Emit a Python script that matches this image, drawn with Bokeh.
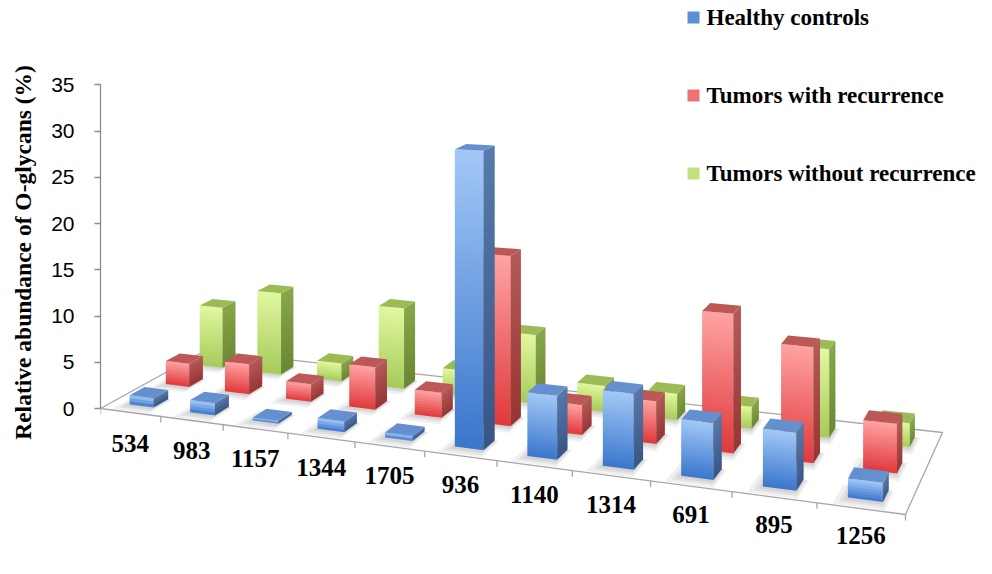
import numpy as np
from bokeh.plotting import figure
from bokeh.layouts import row
from bokeh.models import Range1d, FixedTicker, ColumnDataSource
from bokeh.embed import file_html
from bokeh.resources import INLINE
from bokeh.core.properties import value

# ---------------- data ----------------
categories = ["534", "983", "1157", "1344", "1705", "936", "1140", "1314", "691", "895", "1256"]
healthy = [1.0, 1.3, 0.3, 1.1, 0.5, 29.5, 6.2, 7.2, 5.3, 5.3, 1.7]
recurrence = [2.6, 3.3, 1.9, 4.5, 2.6, 17.4, 3.0, 4.2, 13.5, 11.0, 4.6]
no_recurrence = [6.9, 9.2, 2.0, 8.8, 2.7, 7.3, 2.7, 2.7, 2.2, 8.7, 2.3]
series_labels = ["Healthy controls", "Tumors with recurrence", "Tumors without recurrence"]
value_ticks = [0, 5, 10, 15, 20, 25, 30, 35]
y_title = "Relative abundance of  O-glycans (%)"

# ---------------- layout / style ----------------
TW = 46             # width of the strip holding the y title
W, H = 976, 557
AX_X = 100          # image x of the value axis / frame left
FL, FR, BR, BL = (100, 408), (905, 514), (942, 432), (205, 350)   # floor corners (image px)
PPU = 9.25          # px per value unit at the front-left corner
Y0 = 408            # image y of value 0 at the axis
BAR_W = 0.4
BAR_D = 0.4

PAL = [
    dict(ft="#a3c8f7", fb="#3a76cc", st="#587aab", sb="#375686", top="#6590cf", leg="#5d8fd8"),
    dict(ft="#ffa3a3", fb="#e0393b", st="#b45a5a", sb="#983434", top="#bd5858", leg="#ee7272"),
    dict(ft="#e2f8a0", fb="#a6cb5a", st="#88a64a", sb="#6a8832", top="#9bbb55", leg="#c2e17e"),
]


def homography(src, dst):
    A, b = [], []
    for (x, y), (X, Y) in zip(src, dst):
        A.append([x, y, 1, 0, 0, 0, -X * x, -X * y]); b.append(X)
        A.append([0, 0, 0, x, y, 1, -Y * x, -Y * y]); b.append(Y)
    h = np.linalg.solve(np.array(A, float), np.array(b, float))
    return np.append(h, 1.0).reshape(3, 3)


HM = homography([(0, 0), (1, 0), (1, 1), (0, 1)], [FL, FR, BR, BL])


def floor_px(u, w):
    r = HM @ np.array([u, w, 1.0])
    return r[0] / r[2], r[1] / r[2], r[2]


def to_data(px, py):
    return px, (Y0 - py) / PPU


def proj(u, w, v):
    sx, sy, d = floor_px(u, w)
    return to_data(sx, sy - v * PPU / d)


def hex2rgb(c):
    c = c.lstrip("#")
    return np.array([int(c[i:i + 2], 16) for i in (0, 2, 4)], float)


def mix(c_bot, c_top, t):
    a, b = hex2rgb(c_bot), hex2rgb(c_top)
    r = a + (b - a) * t
    return "#%02x%02x%02x" % tuple(int(round(x)) for x in r)


def quad(pts):
    xs, ys = zip(*[proj(*p) for p in pts])
    return list(xs), list(ys)


n = len(categories)
series = [healthy, recurrence, no_recurrence]

bars = []
for s, vals in enumerate(series):
    wc = (s + 0.5) / 3
    w0, w1 = wc - BAR_D / 6, wc + BAR_D / 6
    for i, v in enumerate(vals):
        uc = (i + 0.5) / n
        u0, u1 = uc - BAR_W / (2 * n), uc + BAR_W / (2 * n)
        d = floor_px(uc, wc)[2]
        bars.append((d, s, u0, u1, w0, w1, v))
bars.sort(key=lambda b: -b[0])

# faces
fx, fy, fc = [], [], []
shx, shy = [], []
for d, s, u0, u1, w0, w1, v in bars:
    pal = PAL[s]
    # soft shadow on the floor
    for eu, ew in ((0.012, 0.085), (0.007, 0.055), (0.003, 0.03)):
        xs, ys = quad([(u0 - eu, w0 - ew, 0), (u1 + eu * 0.5, w0 - ew, 0),
                       (u1 + eu * 0.5, w1, 0), (u0 - eu, w1, 0)])
        shx.append(xs); shy.append(ys)
    hpx = v * PPU / d
    N = max(2, int(hpx / 2.5))
    ov = 1.0 * d / PPU
    for k in range(N):
        va, vb = v * k / N, min(v, v * (k + 1) / N + ov)
        t = (k + 0.5) / N
        xs, ys = quad([(u0, w0, va), (u1, w0, va), (u1, w0, vb), (u0, w0, vb)])
        fx.append(xs); fy.append(ys); fc.append(mix(pal["fb"], pal["ft"], t))
    for k in range(N):
        va, vb = v * k / N, min(v, v * (k + 1) / N + ov)
        t = (k + 0.5) / N
        xs, ys = quad([(u1, w0, va), (u1, w1, va), (u1, w1, vb), (u1, w0, vb)])
        fx.append(xs); fy.append(ys); fc.append(mix(pal["sb"], pal["st"], t))
    xs, ys = quad([(u0, w0, v), (u1, w0, v), (u1, w1, v), (u0, w1, v)])
    fx.append(xs); fy.append(ys); fc.append(pal["top"])

y_rng = ((Y0 - H) / PPU, Y0 / PPU)

# ---- strip with the y-axis title ----
t = figure(width=TW, height=H, x_range=Range1d(0, TW), y_range=Range1d(*y_rng),
           output_backend="svg", toolbar_location=None, x_axis_type=None, y_axis_type=None,
           min_border_left=0, min_border_right=0, min_border_top=0, min_border_bottom=0)
t.grid.visible = False
t.outline_line_color = None
tx, ty = to_data(22, 249)
t.text([tx], [ty], text=[y_title], angle=np.pi / 2, text_align="center", text_baseline="middle",
       text_font=value("Liberation Serif"), text_font_style="bold",
       text_font_size="23.5px", text_color="black")

# ---- main chart ----
p = figure(width=W - TW, height=H,
           x_range=Range1d(AX_X, W),
           y_range=Range1d(*y_rng),
           output_backend="svg", toolbar_location=None, x_axis_type=None,
           min_border_left=AX_X - TW, min_border_right=0, min_border_top=0, min_border_bottom=0)
p.grid.visible = False
p.outline_line_color = None
p.background_fill_color = "white"

# floor
fxs, fys = quad([(0, 0, 0), (1, 0, 0), (1, 1, 0), (0, 1, 0)])
p.patch(fxs, fys, fill_color="white", line_color="#a6a6a6", line_width=1.3)

# tick marks on the front edge
tx0, ty0, tx1, ty1 = [], [], [], []
for i in range(n + 1):
    sx, sy, _ = floor_px(i / n, 0)
    a = to_data(sx, sy); b = to_data(sx, sy + 6)
    tx0.append(a[0]); ty0.append(a[1]); tx1.append(b[0]); ty1.append(b[1])
p.segment(tx0, ty0, tx1, ty1, line_color="#a6a6a6", line_width=1.3)

# shadows
p.patches(shx, shy, fill_color="#000000", fill_alpha=0.06, line_color=None)

# bars
src = ColumnDataSource(dict(xs=fx, ys=fy, c=fc))
p.patches("xs", "ys", source=src, fill_color="c", line_color=None)

# category labels
lx, ly = [], []
for i in range(n):
    u = (i + 0.5) / n
    sx, sy, _ = floor_px(u, 0)
    dx, dy = to_data(sx, sy + 31 - 4 * u)
    lx.append(dx); ly.append(dy)
p.text(lx, ly, text=categories, text_align="center", text_baseline="middle",
       text_font=value("Liberation Serif"), text_font_style="bold",
       text_font_size="25px", text_color="black")

# legend
leg_px = 693
leg_py = [17, 95, 173]
for s in range(3):
    x, y = to_data(leg_px, leg_py[s])
    p.rect([x], [y], width=12, height=12, width_units="screen", height_units="screen",
           fill_color=PAL[s]["leg"], line_color=None)
    x2, _ = to_data(leg_px + 13, 0)
    p.text([x2], [y], text=[series_labels[s]], text_align="left", text_baseline="middle",
           text_font=value("Liberation Serif"), text_font_style="bold",
           text_font_size="23px", text_color="black")

# value axis
ax = p.yaxis[0]
ax.ticker = FixedTicker(ticks=value_ticks)
ax.bounds = (0, 35)
ax.minor_tick_line_color = None
ax.axis_line_color = "#8c8c8c"
ax.axis_line_width = 1.3
ax.major_tick_line_color = "#8c8c8c"
ax.major_tick_line_width = 1.3
ax.major_tick_out = 6
ax.major_tick_in = 0
ax.major_label_text_font = "Liberation Sans"
ax.major_label_text_font_size = "21px"
ax.major_label_text_color = "black"
ax.major_label_standoff = 20

layout = row(t, p, spacing=0)
open("out.html", "w").write(file_html(layout, INLINE))
